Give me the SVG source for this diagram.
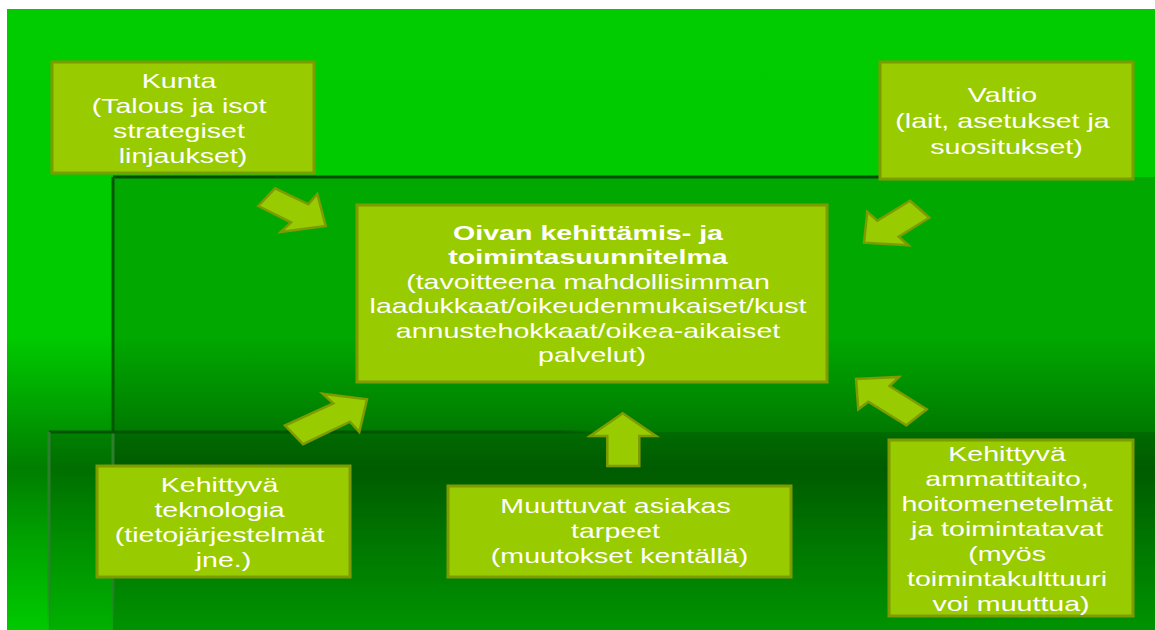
<svg xmlns="http://www.w3.org/2000/svg" width="1155" height="630" viewBox="0 0 1155 630">
  <defs>
    <!-- background sweep: bright top, darker band low down, lighter again at the foot -->
    <linearGradient id="bgGrad" gradientUnits="userSpaceOnUse" x1="0" y1="9" x2="0" y2="630">
      <stop offset="0" stop-color="#00CC00"/>
      <stop offset="0.53" stop-color="#00CA00"/>
      <stop offset="0.74" stop-color="#007E00"/>
      <stop offset="0.86" stop-color="#00A400"/>
      <stop offset="1" stop-color="#00CA00"/>
    </linearGradient>
    <linearGradient id="topEdge2" gradientUnits="userSpaceOnUse" x1="113" y1="0" x2="1040" y2="0">
      <stop offset="0" stop-color="#005000"/>
      <stop offset="0.95" stop-color="#004C00"/>
      <stop offset="1" stop-color="#004C00" stop-opacity="0"/>
    </linearGradient>
    <linearGradient id="topEdge3" gradientUnits="userSpaceOnUse" x1="49" y1="0" x2="600" y2="0">
      <stop offset="0" stop-color="#005400"/>
      <stop offset="0.93" stop-color="#005400"/>
      <stop offset="1" stop-color="#005400" stop-opacity="0"/>
    </linearGradient>
    <linearGradient id="sideEdge" gradientUnits="userSpaceOnUse" x1="0" y1="432" x2="0" y2="630">
      <stop offset="0" stop-color="#2F7F2F"/>
      <stop offset="0.8" stop-color="#2F7F2F" stop-opacity="0.7"/>
      <stop offset="1" stop-color="#2F7F2F" stop-opacity="0.1"/>
    </linearGradient>
    <style>
      .box { fill: #99CC00; stroke: #7E9C00; stroke-width: 3; }
      .arrow { fill: #99CC00; stroke: #7E9C00; stroke-width: 2.5; stroke-linejoin: miter; }
      .label { font-family: "Liberation Sans", Arial, sans-serif; font-size: 20px; fill: #FFFFFF; text-anchor: middle; }
      .strong { font-weight: bold; }
    </style>
  </defs>

  <!-- page -->
  <rect x="0" y="0" width="1155" height="630" fill="#FFFFFF"/>
  <g id="background">
    <rect x="7" y="9" width="1148" height="621" fill="url(#bgGrad)"/>
    <!-- second panel -->
    <rect x="113" y="177" width="1042" height="453" fill="#000000" fill-opacity="0.17"/>
    <!-- third panel -->
    <rect x="49" y="432" width="1106" height="198" fill="#000000" fill-opacity="0.12"/>
    <!-- panel edges -->
    <line x1="113" y1="177" x2="1040" y2="177" stroke="url(#topEdge2)" stroke-width="3"/>
    <line x1="113" y1="177" x2="113" y2="432" stroke="#005800" stroke-width="3"/>
    <line x1="113" y1="432" x2="113" y2="630" stroke="url(#sideEdge)" stroke-width="3"/>
    <line x1="49" y1="432" x2="600" y2="432" stroke="url(#topEdge3)" stroke-width="3"/>
    <line x1="49" y1="432" x2="49" y2="630" stroke="url(#sideEdge)" stroke-width="3"/>
  </g>

  <!-- block arrows pointing at the plan -->
  <g id="connectors">
    <polygon class="arrow" points="258.3,206 275,188.3 308.3,204.3 317.3,194 325.7,226 280.7,232 291,222.3"/>
    <polygon class="arrow" points="910,200.7 929.3,217.7 898.7,236.7 908.3,245.3 864,242.7 867.3,211.7 877.3,220.7"/>
    <polygon class="arrow" points="285,425.5 303,444.2 350,421.7 359.3,432 367,399.2 322.7,393.7 333.3,403.3"/>
    <polygon class="arrow" points="622.7,413.3 656,436 639.3,436 639.3,466 607.3,466 607.3,436 590,436"/>
    <polygon class="arrow" points="906.3,425.3 926.7,409.3 889.5,386 899,377 856,379 858.3,409.3 868.3,401.7"/>
  </g>

  <g id="node-kunta">
    <rect class="box" x="52" y="62" width="262" height="111"/>
    <text class="label" transform="translate(183 0) scale(1.43 1)">
      <tspan x="0" y="88">Kunta</tspan>
      <tspan x="0" y="113.5">(Talous ja isot</tspan>
      <tspan x="0" y="138.5">strategiset</tspan>
      <tspan x="0" y="163.5">linjaukset)</tspan>
    </text>
  </g>

  <g id="node-valtio">
    <rect class="box" x="880" y="62" width="253" height="117"/>
    <text class="label" transform="translate(1006.5 0) scale(1.43 1)">
      <tspan x="0" y="102.5">Valtio</tspan>
      <tspan x="0" y="128">(lait, asetukset ja</tspan>
      <tspan x="0" y="154">suositukset)</tspan>
    </text>
  </g>

  <g id="node-plan">
    <rect class="box" x="357" y="205" width="470" height="177"/>
    <text class="label" transform="translate(592 0) scale(1.43 1)">
      <tspan class="strong" x="0" y="240">Oivan kehittämis- ja</tspan>
      <tspan class="strong" x="0" y="264.5">toimintasuunnitelma</tspan>
      <tspan x="0" y="289">(tavoitteena mahdollisimman</tspan>
      <tspan x="0" y="313.5">laadukkaat/oikeudenmukaiset/kust</tspan>
      <tspan x="0" y="338">annustehokkaat/oikea-aikaiset</tspan>
      <tspan x="0" y="362.5">palvelut)</tspan>
    </text>
  </g>

  <g id="node-teknologia">
    <rect class="box" x="97" y="466" width="253" height="111"/>
    <text class="label" transform="translate(223.5 0) scale(1.43 1)">
      <tspan x="0" y="492">Kehittyvä</tspan>
      <tspan x="0" y="517">teknologia</tspan>
      <tspan x="0" y="542">(tietojärjestelmät</tspan>
      <tspan x="0" y="567.5">jne.)</tspan>
    </text>
  </g>

  <g id="node-asiakas">
    <rect class="box" x="448" y="486" width="343" height="91"/>
    <text class="label" transform="translate(619.5 0) scale(1.43 1)">
      <tspan x="0" y="513">Muuttuvat asiakas</tspan>
      <tspan x="0" y="538">tarpeet</tspan>
      <tspan x="0" y="563">(muutokset kentällä)</tspan>
    </text>
  </g>

  <g id="node-ammattitaito">
    <rect class="box" x="889" y="440" width="244" height="176"/>
    <text class="label" transform="translate(1011 0) scale(1.43 1)">
      <tspan x="0" y="461">Kehittyvä</tspan>
      <tspan x="0" y="486">ammattitaito,</tspan>
      <tspan x="0" y="511">hoitomenetelmät</tspan>
      <tspan x="0" y="536">ja toimintatavat</tspan>
      <tspan x="0" y="561">(myös</tspan>
      <tspan x="0" y="586">toimintakulttuuri</tspan>
      <tspan x="0" y="611">voi muuttua)</tspan>
    </text>
  </g>
</svg>
